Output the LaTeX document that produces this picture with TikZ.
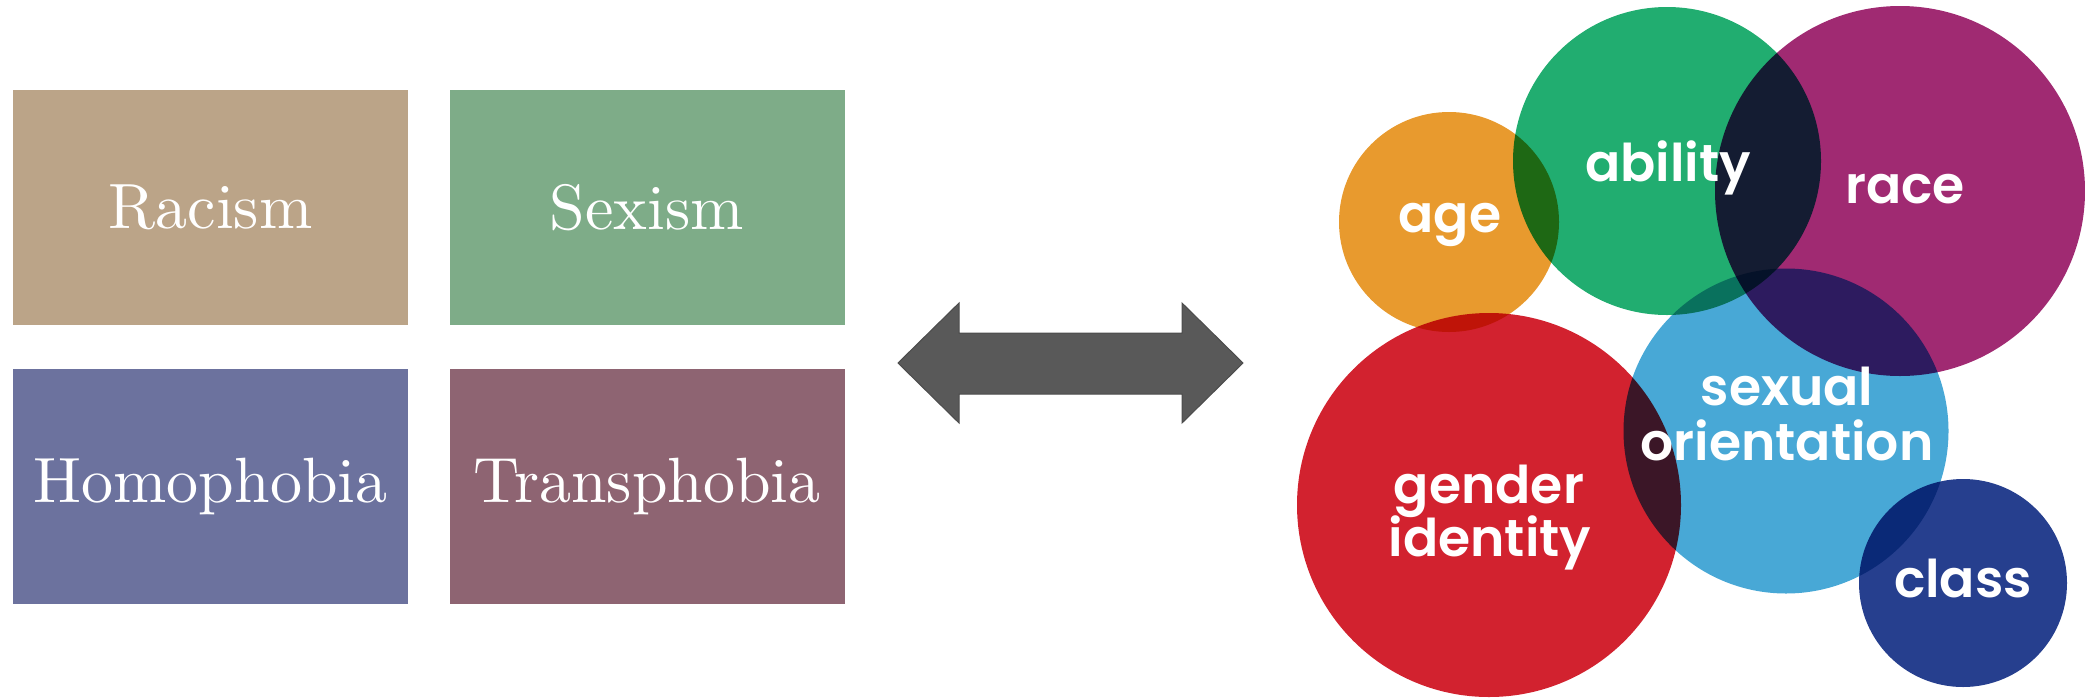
\documentclass[tikz,border=0pt]{standalone}
\usepackage{fontspec}
\newfontfamily\circfont{Poppins SemiBold}
\newfontfamily\boxfont{lmroman10-regular.otf}
\definecolor{cRacism}{HTML}{BBA488}
\definecolor{cSexism}{HTML}{7EAC88}
\definecolor{cHomo}{HTML}{6C729E}
\definecolor{cTrans}{HTML}{8E6472}
\definecolor{cArrow}{HTML}{595959}
\definecolor{cAge}{HTML}{E89A2E}
\definecolor{cAbility}{HTML}{21AD70}
\definecolor{cRace}{HTML}{A02A72}
\definecolor{cSO}{HTML}{48A8D6}
\definecolor{cGender}{HTML}{D2222F}
\definecolor{cClass}{HTML}{263F8E}
\tikzset{
  ismbox/.style={fill=#1, draw=none, minimum width=395pt, minimum height=235pt, inner sep=0pt,
    text=white, font=\boxfont\fontsize{64}{70}\selectfont},
  circ/.style={circle, fill=#1, draw=none, inner sep=0pt},
  clabel/.style={text=white, anchor=base, inner sep=0pt, font=\circfont\fontsize{52}{56}\selectfont},
}
\begin{document}
\begin{tikzpicture}[x=1pt,y=-1pt]
\useasboundingbox (0,0) rectangle (2085,697);
% boxes
\node[ismbox=cRacism] (racism) at (210.5,207.5) {Racism};
\node[ismbox=cSexism] (sexism) at (647,207.5) {Sexism};
\node[ismbox=cHomo] (homo) at (210.5,486) {Homophobia};
\node[ismbox=cTrans] (trans) at (647,486) {Transphobia};
% double arrow
\fill[cArrow, draw=cArrow!85!black, line width=1pt]
  (898,363) -- (959,303) -- (959,333) -- (1182,333) -- (1182,303) -- (1243,363)
  -- (1182,423) -- (1182,394) -- (959,394) -- (959,423) -- cycle;
% circles
\begin{scope}[blend mode=multiply]
\node[circ=cAge, minimum size=220pt] (age) at (1449,222) {};
\node[circ=cAbility, minimum size=308pt] (ability) at (1667,161) {};
\node[circ=cRace, minimum size=370pt] (race) at (1900,191) {};
\node[circ=cSO, minimum size=325pt] (so) at (1786,431) {};
\node[circ=cGender, minimum size=384pt] (gender) at (1489,505) {};
\node[circ=cClass, minimum size=208pt] (class) at (1963,583) {};
\end{scope}
% labels
\node[clabel] (tage) at (1450,232) {age};
\node[clabel] (tability) at (1668,181) {ability};
\node[clabel] (trace) at (1905,203) {race};
\node[clabel] (tsexual) at (1787,405) {sexual};
\node[clabel] (torient) at (1787,460) {orientation};
\node[clabel] (tgender) at (1489,503) {gender};
\node[clabel] (tidentity) at (1490,556) {identity};
\node[clabel] (tclass) at (1963,597) {class};
\end{tikzpicture}
\end{document}
